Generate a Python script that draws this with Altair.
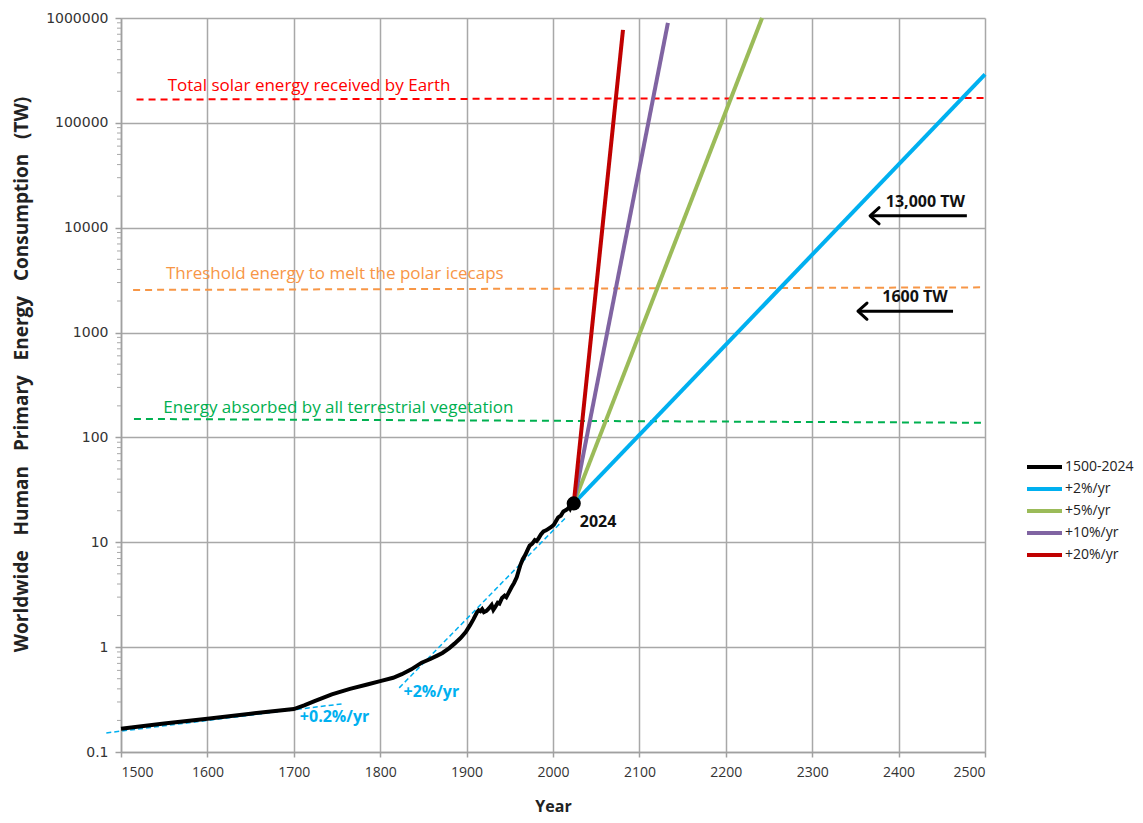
import altair as alt
import pandas as pd

FONT = "Open Sans, Noto Sans, sans-serif"

# ---------------- data ----------------
hist_years = [1500, 1550, 1600, 1650, 1700, 1712, 1724, 1744, 1765, 1785, 1800, 1815, 1825,
              1836, 1848, 1858, 1866, 1872, 1880, 1886, 1893, 1899, 1904, 1908, 1912, 1914,
              1916, 1918, 1920, 1923, 1926, 1929, 1931, 1933, 1936, 1938, 1941, 1944, 1946,
              1948, 1952, 1955, 1958, 1962, 1965, 1968, 1971, 1973, 1976, 1979, 1981, 1983,
              1986, 1989, 1992, 1995, 1998, 2001, 2004, 2006, 2009, 2012, 2015, 2017, 2019,
              2020, 2022, 2024]
hist_values = [0.167, 0.187, 0.208, 0.232, 0.257, 0.278, 0.305, 0.355, 0.400, 0.440, 0.474,
               0.510, 0.552, 0.614, 0.711, 0.77, 0.83, 0.88, 0.98, 1.08, 1.22, 1.39, 1.62,
               1.85, 2.15, 2.25, 2.20, 2.30, 2.16, 2.22, 2.35, 2.52, 2.27, 2.40, 2.65, 2.60,
               2.95, 3.10, 3.00, 3.22, 3.72, 4.10, 4.64, 5.99, 6.9, 7.6, 8.6, 9.3, 9.7, 10.5,
               10.3, 10.8, 11.9, 12.7, 13.0, 13.5, 14.0, 14.7, 16.2, 17.3, 17.9, 19.7, 20.3,
               20.9, 21.8, 21.0, 22.6, 23.5]

start_year = 2024
start_value = 23.5

growth_series = ["+2%/yr", "+5%/yr", "+10%/yr", "+20%/yr"]
growth_end_years = [2500, 2242, 2133, 2081]
growth_end_values = [290000, 1000000, 900000, 770000]

series_order = ["1500-2024", "+2%/yr", "+5%/yr", "+10%/yr", "+20%/yr"]
series_colors = ["#000000", "#00b0f0", "#9bbb59", "#8064a2", "#c00000"]
series_widths = [4, 4, 3, 3, 3]

ref_labels = ["Total solar energy received by Earth",
              "Threshold energy to melt the polar icecaps",
              "Energy absorbed by all terrestrial vegetation"]
ref_colors = ["#ff0000", "#f79646", "#00b050"]
ref_start_years = [1518, 1514, 1515]
ref_end_years = [2500, 2500, 2500]
ref_start_values = [167000, 2550, 150]
ref_end_values = [173000, 2700, 138]
ref_text_years = [1554, 1552, 1549]
ref_text_values = [225000, 3630, 191]

fit_labels = ["+0.2%/yr", "+2%/yr"]
fit_start_years = [1483, 1822]
fit_end_years = [1756, 2015]
fit_start_values = [0.152, 0.409]
fit_end_values = [0.288, 17.3]
fit_text_years = [1707, 1827]
fit_text_values = [0.217, 0.376]

arrow_labels = ["13,000 TW", "1600 TW"]
arrow_values = [13000, 1600]
arrow_tip_years = [2367, 2353]
arrow_tail_years = [2479, 2463]
arrow_text_years = [2431, 2419]

x_ticks = list(range(1500, 2501, 100))
y_ticks = [0.1, 1, 10, 100, 1000, 10000, 100000, 1000000]
minor_ticks = [m * 10.0 ** e for e in range(-1, 6) for m in range(2, 10)]

# ---------------- tables ----------------
line_rows = [{"series": "1500-2024", "year": y, "value": v} for y, v in zip(hist_years, hist_values)]
for s, ey, ev in zip(growth_series, growth_end_years, growth_end_values):
    line_rows.append({"series": s, "year": start_year, "value": start_value})
    line_rows.append({"series": s, "year": ey, "value": ev})
lines_df = pd.DataFrame(line_rows)

ref_rows = []
for lab, c, y0, y1, v0, v1 in zip(ref_labels, ref_colors, ref_start_years, ref_end_years,
                                  ref_start_values, ref_end_values):
    ref_rows.append({"label": lab, "color": c, "year": y0, "value": v0})
    ref_rows.append({"label": lab, "color": c, "year": y1, "value": v1})
ref_df = pd.DataFrame(ref_rows)
ref_text_df = pd.DataFrame({"label": ref_labels, "color": ref_colors,
                            "year": ref_text_years, "value": ref_text_values})

fit_rows = []
for lab, y0, y1, v0, v1 in zip(fit_labels, fit_start_years, fit_end_years,
                               fit_start_values, fit_end_values):
    fit_rows.append({"label": lab, "year": y0, "value": v0})
    fit_rows.append({"label": lab, "year": y1, "value": v1})
fit_df = pd.DataFrame(fit_rows)
fit_text_df = pd.DataFrame({"label": fit_labels, "year": fit_text_years, "value": fit_text_values})

arrow_rows = []
for lab, v, t0, t1 in zip(arrow_labels, arrow_values, arrow_tip_years, arrow_tail_years):
    arrow_rows.append({"label": lab, "year": t0, "value": v})
    arrow_rows.append({"label": lab, "year": t1, "value": v})
arrow_df = pd.DataFrame(arrow_rows)
arrow_head_df = pd.DataFrame({"label": arrow_labels, "year": arrow_tip_years, "value": arrow_values})
arrow_text_df = pd.DataFrame({"label": arrow_labels, "year": arrow_text_years, "value": arrow_values})

dot_df = pd.DataFrame({"year": [start_year], "value": [start_value], "label": [str(start_year)]})
minor_df = pd.DataFrame({"value": minor_ticks})

xscale = alt.Scale(type="linear", domain=[1500, 2500], nice=False, zero=False)
yscale = alt.Scale(type="log", domain=[0.1, 1000000], nice=False)

x_axis = alt.Axis(values=x_ticks, format="d", title="Year", grid=True,
                  tickSize=5, labelPadding=8, titlePadding=19,
                  labelFont=FONT, labelFontSize=14, labelColor="#333333",
                  titleFont=FONT, titleFontSize=16, titleFontWeight="bold", titleColor="#222222")
gap = "\u00a0" * 3
y_title = gap.join(["Worldwide", "Human", "Primary", "Energy", "Consumption", "(TW)"])
y_axis = alt.Axis(values=y_ticks, title=y_title, grid=True,
                  labelExpr="datum.value < 1 ? '0.1' : format(datum.value, 'd')",
                  tickSize=6, labelPadding=7,
                  titleX=-90, titleY=356, titleAngle=270, titleBaseline="bottom",
                  titleAlign="center",
                  labelFont="DejaVu Sans", labelFontSize=14, labelColor="#333333",
                  titleFont=FONT, titleFontSize=19, titleFontWeight="bold", titleColor="#222222")


def X():
    return alt.X("year:Q", scale=xscale, axis=x_axis)


def Y():
    return alt.Y("value:Q", scale=yscale, axis=y_axis)


minor_layer = alt.Chart(minor_df).mark_rule(color="#a8a8a8", strokeWidth=1).encode(
    x=alt.value(-4), x2=alt.value(0), y=Y()
)

ref_lines = alt.Chart(ref_df).mark_line(strokeDash=[7, 5], strokeWidth=2).encode(
    x=X(), y=Y(), color=alt.Color("color:N", scale=None), detail="label:N"
)
ref_text = alt.Chart(ref_text_df).mark_text(align="left", baseline="middle", font=FONT,
                                            fontSize=17).encode(
    x=X(), y=Y(), text="label:N", color=alt.Color("color:N", scale=None)
)

fit_lines = alt.Chart(fit_df).mark_line(strokeDash=[5, 3], strokeWidth=1.5, color="#00b0f0").encode(
    x=X(), y=Y(), detail="label:N"
)
fit_text = alt.Chart(fit_text_df).mark_text(align="left", baseline="middle", font=FONT,
                                            fontSize=16, fontWeight="bold", color="#00b0f0").encode(
    x=X(), y=Y(), text="label:N"
)

main_lines = alt.Chart(lines_df).mark_line().encode(
    x=X(), y=Y(),
    color=alt.Color("series:N", scale=alt.Scale(domain=series_order, range=series_colors),
                    sort=series_order,
                    legend=alt.Legend(title=None, orient="none", legendX=904, legendY=440,
                                      symbolType="stroke", symbolSize=1225, symbolStrokeWidth=3,
                                      clipHeight=18, rowPadding=4, padding=0, labelOffset=1,
                                      labelFont=FONT, labelFontSize=14, labelColor="#222222")),
    strokeWidth=alt.StrokeWidth("series:N", scale=alt.Scale(domain=series_order, range=series_widths),
                                legend=None),
    detail="series:N",
)

dot = alt.Chart(dot_df).mark_point(filled=True, size=200, color="black", opacity=1).encode(x=X(), y=Y())
dot_text = alt.Chart(dot_df).mark_text(align="left", baseline="middle", dx=6, dy=19, font=FONT,
                                       fontSize=16, fontWeight="bold", color="#111111").encode(
    x=X(), y=Y(), text="label:N"
)

arrows = alt.Chart(arrow_df).mark_line(color="black", strokeWidth=3).encode(
    x=X(), y=Y(), detail="label:N"
)
arrow_heads = alt.Chart(arrow_head_df).mark_point(
    shape="M0,0L1,-0.9M0,0L1,0.9", filled=False, size=324, strokeWidth=3,
    color="black", opacity=1, strokeCap="round"
).encode(x=X(), y=Y())
arrow_text = alt.Chart(arrow_text_df).mark_text(align="center", baseline="middle", dy=-14,
                                                font=FONT, fontSize=16, fontWeight="bold",
                                                color="#111111").encode(
    x=X(), y=Y(), text="label:N"
)

chart = alt.layer(
    ref_lines, minor_layer, ref_text, fit_lines, main_lines, fit_text,
    dot, dot_text, arrows, arrow_heads, arrow_text
).properties(
    width=864, height=734,
    padding={"left": 113, "top": 10, "right": 150, "bottom": 63},
    autosize=alt.AutoSizeParams(type="none"),
).configure_view(stroke=None).configure_axis(
    gridColor="#a8a8a8", gridWidth=1.5, domainColor="#a0a0a0", domainWidth=1.5,
    tickColor="#a0a0a0", tickWidth=1.5
)

chart.save("out.html", embed_options={"renderer": "svg", "actions": False})
